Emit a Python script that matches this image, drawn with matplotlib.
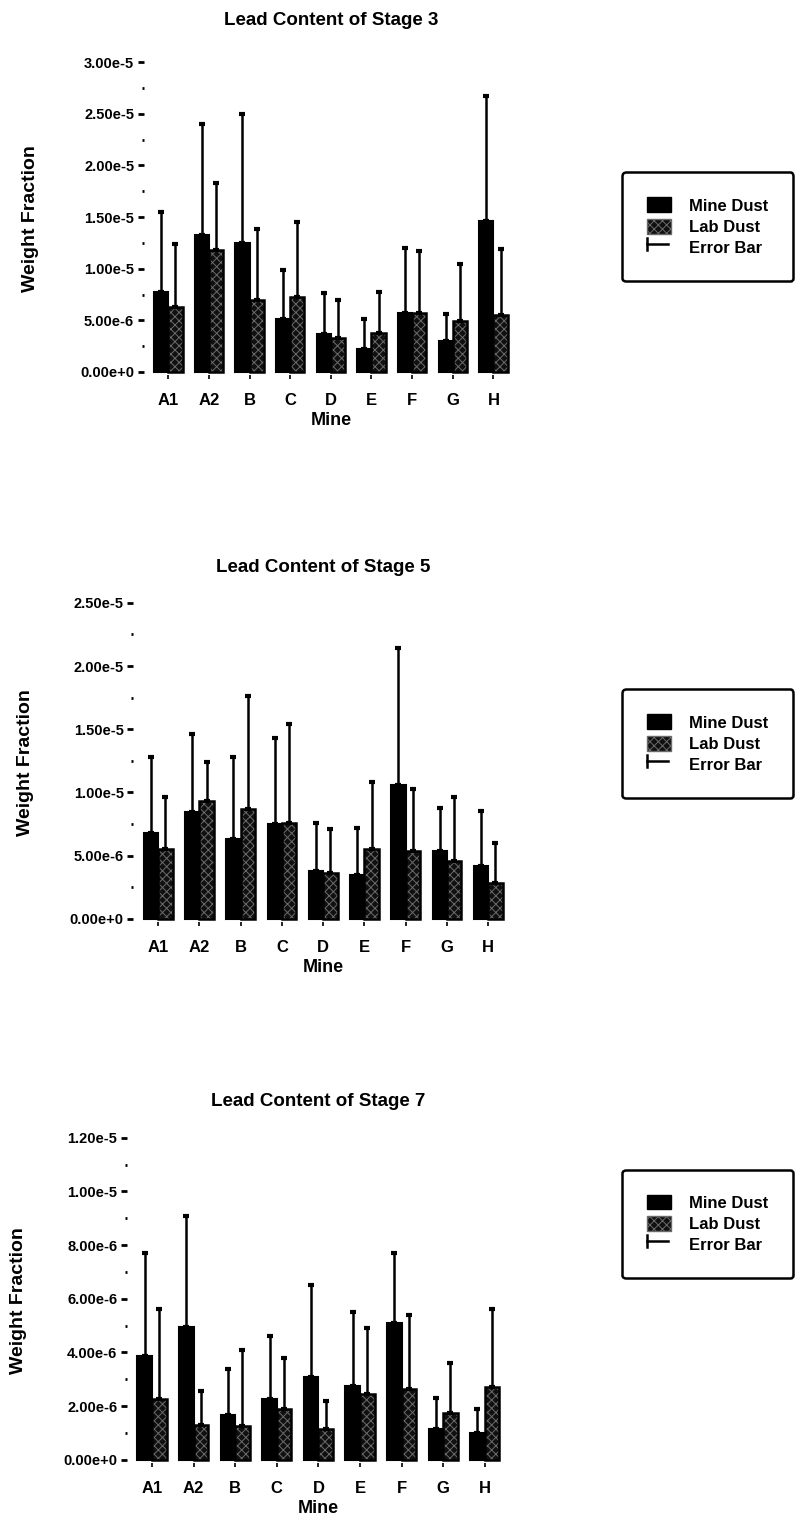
import numpy as np
import matplotlib
matplotlib.use('Agg')
import matplotlib.pyplot as plt
from matplotlib.patches import Patch
from matplotlib.lines import Line2D
from matplotlib.ticker import FuncFormatter, MultipleLocator

plt.rcParams['font.family'] = ['Liberation Sans', 'DejaVu Sans']
plt.rcParams['font.weight'] = 'bold'
plt.rcParams['hatch.linewidth'] = 0.7

MINES = ['A1', 'A2', 'B', 'C', 'D', 'E', 'F', 'G', 'H']

# stage 3
s3_mine     = [7.75e-6, 1.33e-5, 1.25e-5, 5.1e-6, 3.65e-6, 2.25e-6, 5.7e-6, 3.0e-6, 1.46e-5]
s3_mine_err = [1.55e-5, 2.40e-5, 2.50e-5, 9.9e-6, 7.6e-6, 5.1e-6, 1.2e-5, 5.6e-6, 2.67e-5]
s3_lab      = [6.25e-6, 1.18e-5, 7.0e-6, 7.25e-6, 3.3e-6, 3.8e-6, 5.7e-6, 4.9e-6, 5.5e-6]
s3_lab_err  = [1.24e-5, 1.83e-5, 1.38e-5, 1.45e-5, 7.0e-6, 7.7e-6, 1.17e-5, 1.05e-5, 1.19e-5]

# stage 5
s5_mine     = [6.8e-6, 8.45e-6, 6.3e-6, 7.5e-6, 3.75e-6, 3.5e-6, 1.06e-5, 5.4e-6, 4.2e-6]
s5_mine_err = [1.28e-5, 1.46e-5, 1.28e-5, 1.43e-5, 7.6e-6, 7.15e-6, 2.14e-5, 8.8e-6, 8.5e-6]
s5_lab      = [5.5e-6, 9.3e-6, 8.7e-6, 7.6e-6, 3.6e-6, 5.5e-6, 5.4e-6, 4.6e-6, 2.85e-6]
s5_lab_err  = [9.6e-6, 1.24e-5, 1.76e-5, 1.54e-5, 7.1e-6, 1.08e-5, 1.03e-5, 9.6e-6, 6.0e-6]

# stage 7
s7_mine     = [3.86e-6, 4.95e-6, 1.67e-6, 2.25e-6, 3.1e-6, 2.75e-6, 5.1e-6, 1.15e-6, 1.0e-6]
s7_mine_err = [7.7e-6, 9.1e-6, 3.4e-6, 4.6e-6, 6.5e-6, 5.5e-6, 7.7e-6, 2.3e-6, 1.9e-6]
s7_lab      = [2.25e-6, 1.3e-6, 1.25e-6, 1.9e-6, 1.15e-6, 2.45e-6, 2.65e-6, 1.75e-6, 2.7e-6]
s7_lab_err  = [5.6e-6, 2.55e-6, 4.1e-6, 3.8e-6, 2.2e-6, 4.9e-6, 5.4e-6, 3.6e-6, 5.6e-6]

PANELS = [
    ('Lead Content of Stage 3', s3_mine, s3_mine_err, s3_lab, s3_lab_err, 3.0e-5, 5e-6, 2.5e-6),
    ('Lead Content of Stage 5', s5_mine, s5_mine_err, s5_lab, s5_lab_err, 2.5e-5, 5e-6, 2.5e-6),
    ('Lead Content of Stage 7', s7_mine, s7_mine_err, s7_lab, s7_lab_err, 1.2e-5, 2e-6, 1e-6),
]
# axes rects [left, bottom, width, height] and legend anchors in figure coords
RECTS   = [[0.179, 0.7555, 0.465, 0.204], [0.166, 0.399, 0.472, 0.208], [0.158, 0.0463, 0.476, 0.212]]
LEG_POS = [(0.997, 0.893), (0.997, 0.556), (0.997, 0.243)]
TITLE_PAD = [27, 22, 23]
YLAB_PAD = [30, 26, 26]

LAB_FACE, LAB_HATCH = '#101010', '#6a6a6a'


def sci(v, pos):
    m, e = f'{v:.2e}'.split('e')
    return f'{m}e{int(e):+d}'


class ErrHandler:
    def legend_artist(self, legend, orig, fontsize, hb):
        x0, y0, w, h = hb.xdescent, hb.ydescent, hb.width, hb.height
        t = hb.get_transform()
        a = Line2D([x0, x0 + w * 0.9], [y0 + h / 2] * 2, color='k', lw=1.8, transform=t)
        b = Line2D([x0, x0], [y0 + h * 0.1, y0 + h * 0.9], color='k', lw=1.8, transform=t)
        hb.add_artist(a); hb.add_artist(b)
        return a


fig = plt.figure(figsize=(8.04, 15.34), dpi=100)
x = np.arange(len(MINES))
w = 0.35

for (title, mine, mine_err, lab, lab_err, ymax, major, minor), rect, lp, tp, yp in zip(
        PANELS, RECTS, LEG_POS, TITLE_PAD, YLAB_PAD):
    ax = fig.add_axes(rect)
    mine, lab = np.array(mine), np.array(lab)
    ax.bar(x - w / 2, mine, w, color='black', edgecolor='black', lw=1.5)
    ax.bar(x + w / 2, lab, w, color=LAB_FACE, edgecolor=LAB_HATCH, hatch='xxxx', lw=0)
    ax.bar(x + w / 2, lab, w, fill=False, edgecolor='black', lw=1.8)
    for xs, top, err in [(x - w / 2, mine, mine_err), (x + w / 2, lab, lab_err)]:
        ax.errorbar(xs, top, yerr=[np.zeros_like(top), np.array(err) - top], fmt='none',
                    ecolor='black', elinewidth=1.8, capsize=2.5, capthick=3)
    ax.set_xlim(-0.6, 8.6)
    ax.set_ylim(-ymax * 0.01, ymax)
    ax.set_xticks(x, MINES, fontsize=12)
    ax.yaxis.set_major_locator(MultipleLocator(major))
    ax.yaxis.set_minor_locator(MultipleLocator(minor))
    ax.yaxis.set_major_formatter(FuncFormatter(sci))
    ax.tick_params(axis='y', which='major', length=4, width=2, labelsize=10.5, pad=3)
    ax.tick_params(axis='y', which='minor', length=1.5, width=2)
    ax.tick_params(axis='x', length=3, width=1.2, pad=10)
    for s in ax.spines.values():
        s.set_visible(False)
    ax.set_title(title, fontsize=13.5, fontweight='bold', pad=tp)
    ax.set_xlabel('Mine', fontsize=13, fontweight='bold', labelpad=3)
    ax.set_ylabel('Weight Fraction', fontsize=14, fontweight='bold', labelpad=yp)

    handles = [Patch(facecolor='black', edgecolor='black'),
               Patch(facecolor=LAB_FACE, edgecolor=LAB_HATCH, hatch='xxxx'),
               object()]
    leg = fig.legend(handles, ['Mine Dust', 'Lab Dust', 'Error Bar'], loc='upper right', bbox_to_anchor=lp,
                     handler_map={object: ErrHandler()}, fontsize=12, frameon=True, fancybox=True,
                     edgecolor='black', framealpha=1, handlelength=1.4, handleheight=1.0,
                     handletextpad=1.1, labelspacing=0.3, borderpad=1.5)
    leg.get_frame().set_linewidth(1.8)

fig.savefig('out.png', dpi=100)
